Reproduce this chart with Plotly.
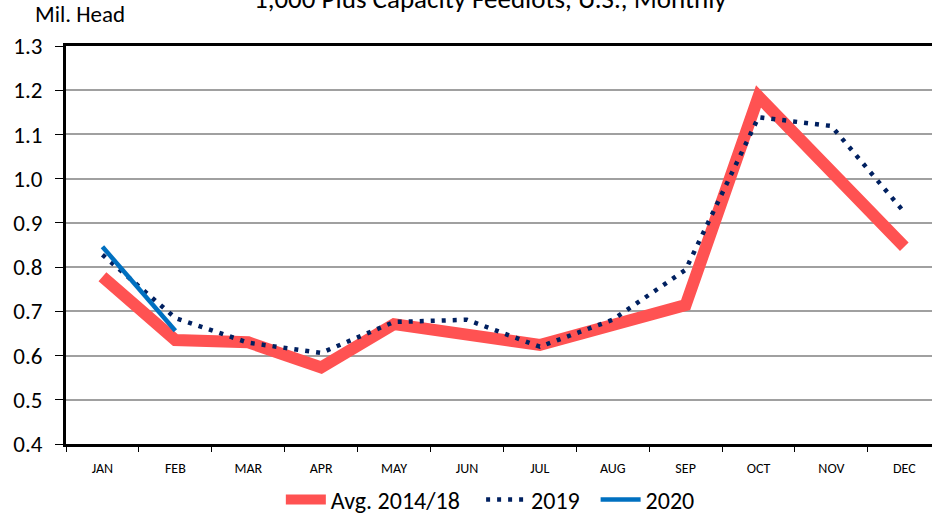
import plotly.graph_objects as go

months = ["JAN", "FEB", "MAR", "APR", "MAY", "JUN", "JUL", "AUG", "SEP", "OCT", "NOV", "DEC"]
avg_2014_18 = [0.778, 0.635, 0.630, 0.573, 0.671, 0.650, 0.624, 0.669, 0.714, 1.186, 1.013, 0.846]
y2019 = [0.828, 0.685, 0.629, 0.606, 0.676, 0.681, 0.620, 0.681, 0.794, 1.139, 1.119, 0.924]
y2020 = [0.846, 0.656]
y_ticks = [0.4, 0.5, 0.6, 0.7, 0.8, 0.9, 1.0, 1.1, 1.2, 1.3]
series_names = ["Avg. 2014/18", "2019", "2020"]

FONT = "Carlito, Liberation Sans Narrow, Lato, Liberation Sans, Arial, sans-serif"
NB = "\u00a0"

fig = go.Figure()
fig.add_trace(go.Scatter(x=months, y=avg_2014_18, mode="lines", name=series_names[0] + NB * 3,
                         line=dict(color="#FF5252", width=12)))
fig.add_trace(go.Scatter(x=months, y=y2019, mode="lines", name=series_names[1] + NB * 2,
                         line=dict(color="#002060", width=4.5, dash="4px,7px")))
fig.add_trace(go.Scatter(x=months[:len(y2020)], y=y2020, mode="lines", name=series_names[2],
                         line=dict(color="#0070C0", width=4.5)))

fig.update_layout(
    width=932, height=514,
    margin=dict(l=66, r=0, t=46, b=70),
    paper_bgcolor="white", plot_bgcolor="white",
    font=dict(family=FONT, color="black"),
    showlegend=True,
    legend=dict(orientation="h", x=0.490, xanchor="center",
                yref="container", y=1 - 500 / 514, yanchor="middle",
                font=dict(size=24, family=FONT), itemwidth=40, traceorder="normal"),
    xaxis=dict(type="category", categoryorder="array", categoryarray=months,
               range=[-0.5, 11.38], showgrid=False, showline=True, linecolor="black",
               linewidth=3, mirror=True, ticks="outside", tickson="boundaries",
               ticklen=5, tickcolor="black", ticklabelstandoff=9,
               tickfont=dict(size=14, family=FONT)),
    yaxis=dict(range=[0.4, 1.3], tickvals=y_ticks, tickformat=".1f",
               showgrid=True, gridcolor="#A0A0A0", gridwidth=1.5,
               showline=True, linecolor="black", linewidth=3,
               ticks="outside", ticklen=8, tickcolor="black", ticklabelstandoff=8,
               tickfont=dict(size=23, family=FONT), zeroline=False),
)

fig.add_annotation(text="1,000 Plus Capacity Feedlots, U.S., Monthly", xref="paper", yref="paper",
                   x=0.490, y=1.1188, xanchor="center", yanchor="middle", showarrow=False,
                   font=dict(size=27, family=FONT))
fig.add_annotation(text="Mil. Head", xref="paper", yref="paper",
                   x=-0.0381, y=1.0804, xanchor="left", yanchor="middle", showarrow=False,
                   font=dict(size=23, family=FONT))

fig.write_html("out.html", config={"displayModeBar": False},
               post_script="document.body.style.margin='0';")
